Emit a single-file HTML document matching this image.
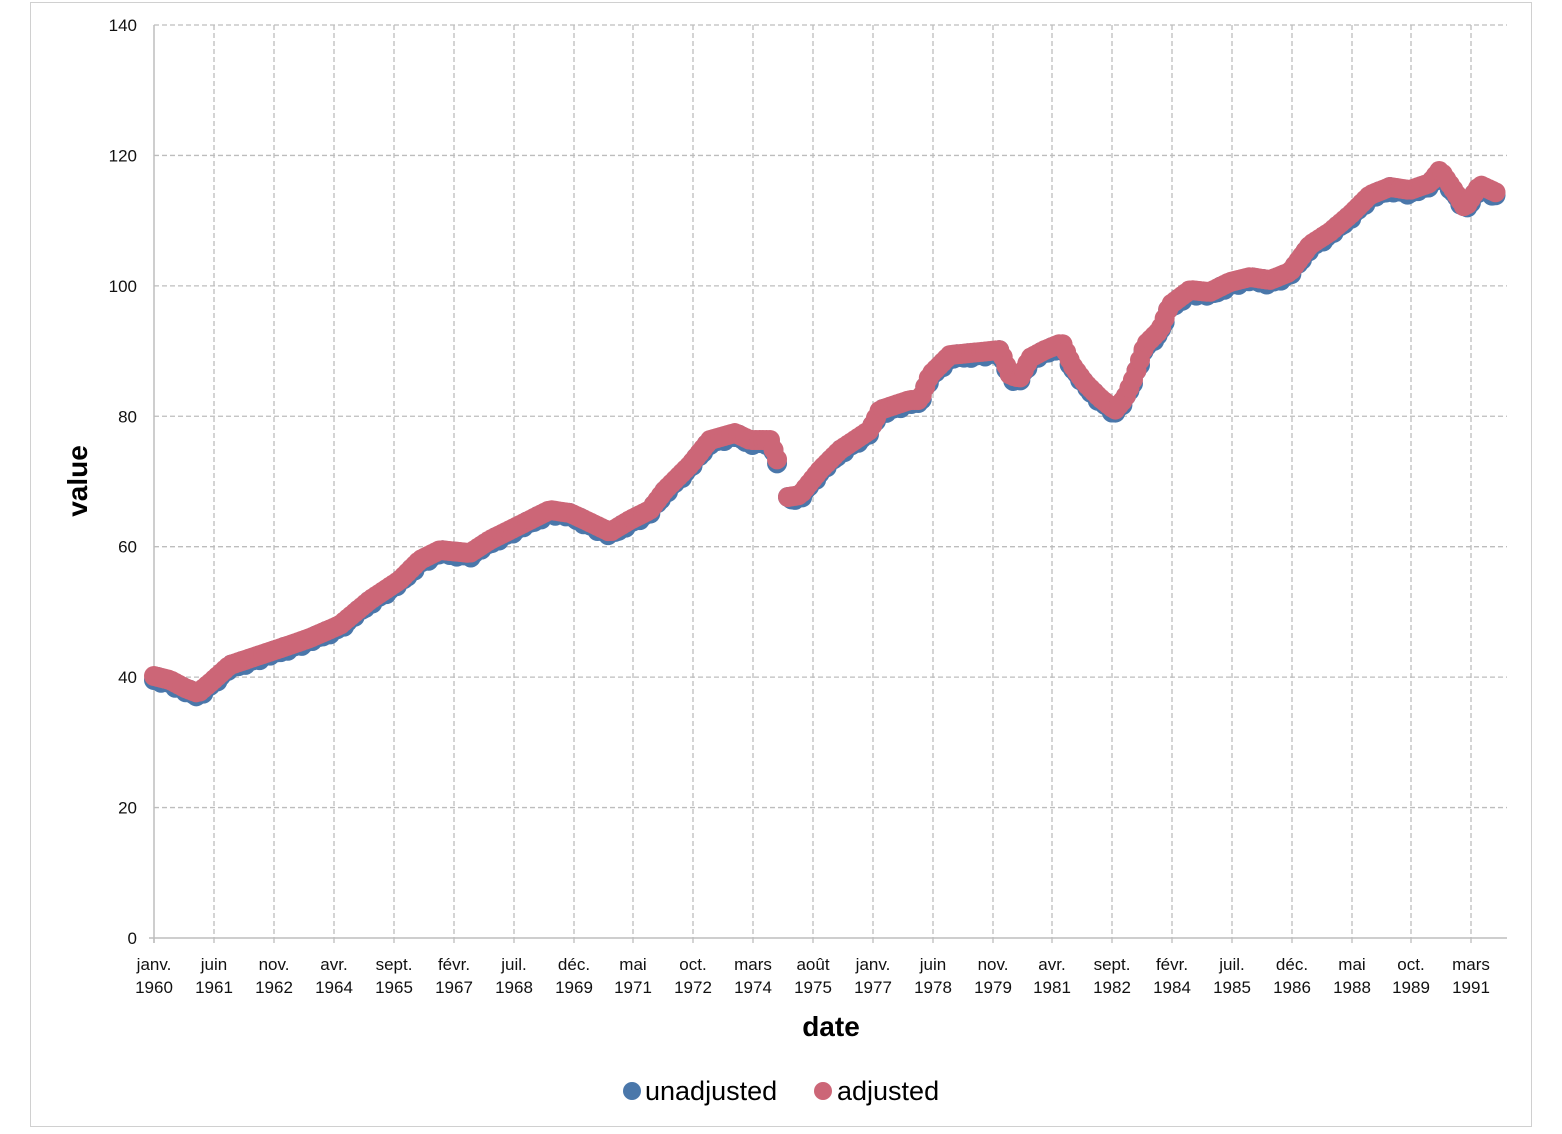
<!DOCTYPE html>
<html><head><meta charset="utf-8"><style>
body{margin:0;background:#fff;}
svg text{font-family:"Liberation Sans",Arial,sans-serif;}
</style></head><body>
<svg id="s" width="1562" height="1129" xmlns="http://www.w3.org/2000/svg">
<rect x="30.5" y="2.5" width="1501" height="1124" fill="#fff" stroke="#d0d0d0"/>
<g id="grid" stroke="#bdbdbd" stroke-width="1.3" stroke-dasharray="5,3" fill="none"></g>
<line x1="154" y1="25" x2="154" y2="943" stroke="#bdbdbd" stroke-width="1.5"/>
<line x1="149" y1="938" x2="1507" y2="938" stroke="#bdbdbd" stroke-width="1.5"/>
<g id="yl" font-size="17" text-anchor="end" fill="#111"></g>
<g id="xl" font-size="17" text-anchor="middle" fill="#111"></g>
<g id="pts"></g>
<text x="831" y="1036" font-size="28" font-weight="bold" text-anchor="middle">date</text>
<text transform="translate(87,481) rotate(-90)" font-size="28" font-weight="bold" text-anchor="middle">value</text>
<circle cx="632" cy="1091" r="9" fill="#4a77aa"/>
<text x="645" y="1100" font-size="27">unadjusted</text>
<circle cx="823" cy="1091" r="9" fill="#cc6677"/>
<text x="837" y="1100" font-size="27">adjusted</text>
</svg>
<script>
const NS="http://www.w3.org/2000/svg";
function el(p,t,a,txt){const e=document.createElementNS(NS,t);for(const k in a)e.setAttribute(k,a[k]);if(txt!=null)e.textContent=txt;p.appendChild(e);return e;}
const g=document.getElementById('grid'),yl=document.getElementById('yl'),xl=document.getElementById('xl'),pts=document.getElementById('pts');
for(let i=0;i<=7;i++){const y=938-i*130.43;if(i>0)el(g,'line',{x1:154,x2:1507,y1:y,y2:y});el(yl,'text',{x:137,y:y+6},String(i*20));}
const xs=[154,214,274,334,394,454,514,574,633,693,753,813,873,933,993,1052,1112,1172,1232,1292,1352,1411,1471];
const lab=[["janv.",1960],["juin",1961],["nov.",1962],["avr.",1964],["sept.",1965],["févr.",1967],["juil.",1968],["déc.",1969],["mai",1971],["oct.",1972],["mars",1974],["août",1975],["janv.",1977],["juin",1978],["nov.",1979],["avr.",1981],["sept.",1982],["févr.",1984],["juil.",1985],["déc.",1986],["mai",1988],["oct.",1989],["mars",1991]];
xs.forEach((x,i)=>{if(i>0)el(g,'line',{x1:x,x2:x,y1:25,y2:938});el(g,'line',{x1:x,x2:x,y1:938,y2:943,'stroke-dasharray':'none'});el(xl,'text',{x:x,y:970},lab[i][0]);el(xl,'text',{x:x,y:993},lab[i][1]);});
const segs=[[[154,676],[170,680],[185,688],[198,693],[210,683],[230,665],[260,655],[290,645],[310,638],[340,625],[370,600],[400,580],[420,560],[440,550],[470,553],[490,540],[520,525],[550,510],[570,513],[585,520],[610,532],[630,520],[650,510],[665,490],[690,465],[710,440],[735,433],[750,440],[770,440],[778,462]],
[[788,497],[800,495],[820,470],[840,450],[870,430],[880,410],[910,400],[920,400],[930,375],[950,355],[970,353],[1000,350],[1010,375],[1020,378],[1030,358],[1045,350],[1062,343],[1072,365],[1085,383],[1100,398],[1115,410],[1125,398],[1135,375],[1145,345],[1160,330],[1170,305],[1190,290],[1210,292],[1230,282],[1250,277],[1270,280],[1290,272],[1310,245],[1330,232],[1350,215],[1370,195],[1390,187],[1410,190],[1430,183],[1440,170],[1455,192],[1465,208],[1480,185],[1497,193]]];
const P=[];
segs.forEach(s=>{const x0=s[0][0],x1=s[s.length-1][0];for(let x=x0;x<=x1+0.1;x+=3.52){let j=0;while(j<s.length-2&&s[j+1][0]<x)j++;const a=s[j],b=s[j+1];const t=Math.min(1,Math.max(0,(x-a[0])/(b[0]-a[0])));P.push([x,a[1]+t*(b[1]-a[1])]);}});
P.forEach((p,i)=>{const off=[2,-2,3,0,1,-1,3,1,0,2,-2,1][i%12];el(pts,'circle',{cx:p[0],cy:p[1]+off+2,r:10,fill:'#4a77aa'});});
P.forEach(p=>{el(pts,'circle',{cx:p[0],cy:p[1],r:10,fill:'#cc6677'});});
</script>
</body></html>
